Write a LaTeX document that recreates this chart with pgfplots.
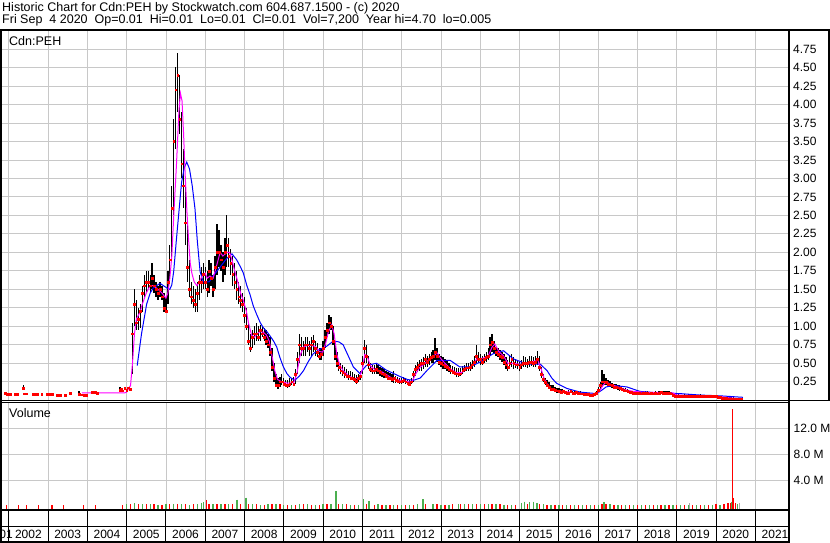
\documentclass[border=0pt]{standalone}
\usepackage{fontspec}
\setmainfont{Liberation Sans}
\usepackage{pgfplots}
\pgfplotsset{compat=1.18}
\usepackage{pgfplotstable}
\definecolor{gridc}{RGB}{200,200,200}
\definecolor{volgreen}{RGB}{76,175,80}
\definecolor{volgrey}{RGB}{170,170,170}
\definecolor{magc}{RGB}{255,0,255}
\definecolor{bluec}{RGB}{0,0,255}

\pgfplotstableread{
x lo hi c
2005.15 0.35 1.05 0.90
2005.20 1.00 1.50 1.30
2005.25 0.95 1.35 1.05
2005.30 0.95 1.25 1.10
2005.35 0.98 1.30 1.20
2005.40 1.20 1.55 1.45
2005.45 1.40 1.70 1.55
2005.50 1.45 1.75 1.60
2005.55 1.50 1.75 1.60
2005.60 1.45 1.70 1.55
2005.65 1.50 1.85 1.65
2005.70 1.45 1.70 1.55
2005.75 1.40 1.60 1.50
2005.80 1.35 1.55 1.45
2005.85 1.40 1.60 1.50
2005.90 1.35 1.55 1.40
2005.95 1.20 1.45 1.25
2006.00 1.18 1.40 1.20
2006.05 1.30 1.75 1.60
2006.10 1.60 2.10 1.90
2006.15 1.90 2.90 2.60
2006.20 2.50 3.80 3.50
2006.25 3.40 4.50 4.20
2006.30 3.90 4.70 4.40
2006.35 3.60 4.40 3.80
2006.40 3.00 3.90 3.20
2006.45 2.60 3.40 2.90
2006.50 2.10 3.00 2.40
2006.55 1.60 2.40 1.80
2006.60 1.40 1.90 1.50
2006.65 1.30 1.60 1.40
2006.70 1.25 1.55 1.35
2006.75 1.20 1.50 1.30
2006.80 1.20 1.60 1.45
2006.85 1.35 1.70 1.60
2006.90 1.45 1.80 1.60
2006.95 1.50 1.85 1.70
2007.00 1.50 1.80 1.60
2007.05 1.40 1.75 1.50
2007.10 1.45 1.90 1.75
2007.15 1.55 1.85 1.65
2007.20 1.40 1.70 1.50
2007.25 1.50 1.95 1.80
2007.30 1.70 2.38 2.00
2007.35 1.80 2.30 2.00
2007.40 1.75 2.10 1.90
2007.45 1.60 2.00 1.80
2007.50 1.70 2.20 2.00
2007.55 1.80 2.50 2.10
2007.60 1.80 2.20 1.95
2007.65 1.70 2.05 1.85
2007.70 1.55 1.95 1.70
2007.75 1.50 1.85 1.60
2007.80 1.35 1.75 1.50
2007.85 1.30 1.60 1.40
2007.90 1.25 1.55 1.35
2007.95 1.20 1.45 1.30
2008.00 1.05 1.40 1.15
2008.05 0.95 1.25 1.00
2008.10 0.75 1.05 0.80
2008.15 0.65 0.90 0.70
2008.20 0.70 0.95 0.85
2008.25 0.75 1.00 0.90
2008.30 0.80 1.05 0.90
2008.35 0.80 1.00 0.85
2008.40 0.80 1.02 0.95
2008.45 0.85 1.00 0.90
2008.50 0.80 0.98 0.85
2008.55 0.75 0.95 0.80
2008.60 0.70 0.90 0.75
2008.65 0.60 0.85 0.65
2008.70 0.40 0.70 0.45
2008.75 0.25 0.50 0.30
2008.80 0.18 0.35 0.20
2008.85 0.15 0.30 0.20
2008.90 0.18 0.32 0.25
2008.95 0.20 0.35 0.25
2009.00 0.20 0.30 0.22
2009.05 0.18 0.28 0.20
2009.10 0.17 0.27 0.20
2009.15 0.18 0.30 0.22
2009.20 0.20 0.30 0.25
2009.25 0.20 0.32 0.22
2009.30 0.22 0.42 0.35
2009.35 0.35 0.65 0.55
2009.40 0.50 0.90 0.75
2009.45 0.60 0.85 0.70
2009.50 0.60 0.80 0.70
2009.55 0.60 0.85 0.75
2009.60 0.65 0.85 0.75
2009.65 0.60 0.80 0.70
2009.70 0.60 0.85 0.75
2009.75 0.65 0.88 0.80
2009.80 0.60 0.80 0.70
2009.85 0.58 0.78 0.65
2009.90 0.55 0.70 0.60
2009.95 0.55 0.70 0.62
2010.00 0.60 0.80 0.70
2010.05 0.70 0.95 0.85
2010.10 0.85 1.05 0.95
2010.15 0.90 1.15 1.05
2010.20 0.95 1.12 1.00
2010.25 0.75 1.00 0.80
2010.30 0.55 0.80 0.60
2010.35 0.45 0.65 0.50
2010.40 0.40 0.55 0.45
2010.45 0.35 0.50 0.40
2010.50 0.33 0.48 0.38
2010.55 0.30 0.45 0.35
2010.60 0.30 0.42 0.33
2010.65 0.28 0.40 0.32
2010.70 0.28 0.40 0.30
2010.75 0.27 0.38 0.30
2010.80 0.25 0.36 0.28
2010.85 0.22 0.34 0.26
2010.90 0.25 0.35 0.30
2010.95 0.28 0.40 0.33
2011.00 0.35 0.60 0.50
2011.05 0.50 0.82 0.70
2011.10 0.50 0.75 0.60
2011.15 0.42 0.60 0.48
2011.20 0.38 0.50 0.42
2011.25 0.36 0.48 0.40
2011.30 0.35 0.48 0.40
2011.35 0.36 0.50 0.42
2011.40 0.35 0.48 0.40
2011.45 0.33 0.45 0.38
2011.50 0.32 0.44 0.36
2011.55 0.30 0.42 0.35
2011.60 0.30 0.40 0.33
2011.65 0.28 0.38 0.30
2011.70 0.27 0.37 0.30
2011.75 0.25 0.35 0.28
2011.80 0.24 0.40 0.30
2011.85 0.24 0.33 0.27
2011.90 0.23 0.32 0.26
2011.95 0.22 0.30 0.25
2012.00 0.22 0.30 0.26
2012.05 0.23 0.32 0.27
2012.10 0.22 0.30 0.25
2012.15 0.20 0.28 0.23
2012.20 0.20 0.27 0.22
2012.25 0.22 0.30 0.25
2012.30 0.25 0.40 0.35
2012.35 0.33 0.48 0.42
2012.40 0.38 0.52 0.45
2012.45 0.40 0.55 0.48
2012.50 0.40 0.56 0.50
2012.55 0.42 0.58 0.50
2012.60 0.45 0.62 0.55
2012.65 0.45 0.60 0.52
2012.70 0.48 0.62 0.55
2012.75 0.50 0.65 0.58
2012.80 0.50 0.68 0.60
2012.85 0.55 0.84 0.65
2012.90 0.52 0.70 0.60
2012.95 0.48 0.62 0.52
2013.00 0.45 0.60 0.50
2013.05 0.42 0.58 0.48
2013.10 0.42 0.56 0.46
2013.15 0.40 0.55 0.45
2013.20 0.38 0.50 0.42
2013.25 0.36 0.48 0.40
2013.30 0.35 0.46 0.38
2013.35 0.34 0.45 0.37
2013.40 0.32 0.44 0.36
2013.45 0.32 0.43 0.35
2013.50 0.33 0.44 0.36
2013.55 0.35 0.46 0.40
2013.60 0.38 0.48 0.42
2013.65 0.40 0.50 0.44
2013.70 0.40 0.50 0.44
2013.75 0.40 0.52 0.45
2013.80 0.42 0.55 0.48
2013.85 0.45 0.60 0.52
2013.90 0.50 0.75 0.60
2013.95 0.50 0.65 0.55
2014.00 0.48 0.62 0.55
2014.05 0.48 0.60 0.52
2014.10 0.50 0.62 0.55
2014.15 0.52 0.65 0.58
2014.20 0.55 0.70 0.60
2014.25 0.60 0.85 0.75
2014.30 0.65 0.89 0.78
2014.35 0.62 0.80 0.70
2014.40 0.60 0.72 0.65
2014.45 0.58 0.70 0.62
2014.50 0.55 0.68 0.60
2014.55 0.52 0.65 0.58
2014.60 0.48 0.62 0.52
2014.65 0.42 0.58 0.48
2014.70 0.40 0.55 0.45
2014.75 0.42 0.60 0.50
2014.80 0.45 0.62 0.55
2014.85 0.42 0.58 0.50
2014.90 0.43 0.55 0.48
2014.95 0.42 0.55 0.48
2015.00 0.40 0.52 0.45
2015.05 0.42 0.55 0.48
2015.10 0.45 0.60 0.50
2015.15 0.45 0.58 0.50
2015.20 0.44 0.56 0.50
2015.25 0.45 0.60 0.52
2015.30 0.46 0.60 0.52
2015.35 0.45 0.58 0.50
2015.40 0.45 0.60 0.52
2015.45 0.48 0.67 0.55
2015.50 0.40 0.60 0.45
2015.55 0.30 0.45 0.35
2015.60 0.25 0.35 0.28
2015.65 0.20 0.30 0.24
2015.70 0.18 0.28 0.20
2015.75 0.15 0.25 0.18
2015.80 0.13 0.20 0.15
2015.85 0.12 0.20 0.15
2015.90 0.12 0.18 0.14
2015.95 0.10 0.17 0.13
2016.00 0.10 0.16 0.12
2016.05 0.09 0.15 0.11
2016.10 0.10 0.15 0.12
2016.15 0.10 0.14 0.11
2016.20 0.08 0.13 0.10
2016.25 0.09 0.14 0.10
2016.30 0.10 0.15 0.12
2016.35 0.09 0.13 0.10
2016.40 0.08 0.12 0.10
2016.45 0.09 0.13 0.11
2016.50 0.09 0.12 0.10
2016.55 0.08 0.12 0.09
2016.60 0.07 0.11 0.09
2016.65 0.07 0.10 0.08
2016.70 0.07 0.10 0.08
2016.75 0.06 0.10 0.08
2016.80 0.06 0.09 0.07
2016.85 0.06 0.09 0.07
2016.90 0.07 0.10 0.08
2016.95 0.08 0.13 0.10
2017.00 0.10 0.18 0.14
2017.05 0.14 0.25 0.20
2017.10 0.18 0.41 0.25
2017.15 0.20 0.35 0.25
2017.20 0.20 0.30 0.24
2017.25 0.19 0.28 0.22
2017.30 0.18 0.26 0.21
2017.35 0.16 0.24 0.20
2017.40 0.15 0.22 0.18
2017.45 0.15 0.22 0.18
2017.50 0.14 0.20 0.17
2017.55 0.13 0.20 0.16
2017.60 0.13 0.18 0.15
2017.65 0.12 0.17 0.14
2017.70 0.11 0.16 0.13
2017.75 0.10 0.15 0.12
2017.80 0.10 0.14 0.11
2017.85 0.09 0.13 0.11
2017.90 0.09 0.12 0.10
2017.95 0.09 0.12 0.10
2018.00 0.08 0.12 0.10
2018.05 0.09 0.12 0.10
2018.10 0.08 0.11 0.09
2018.15 0.08 0.11 0.10
2018.20 0.08 0.12 0.10
2018.25 0.09 0.12 0.10
2018.30 0.08 0.11 0.09
2018.35 0.08 0.11 0.10
2018.40 0.08 0.11 0.09
2018.45 0.08 0.12 0.10
2018.50 0.08 0.11 0.09
2018.55 0.09 0.12 0.10
2018.60 0.09 0.13 0.11
2018.65 0.09 0.12 0.10
2018.70 0.09 0.12 0.10
2018.75 0.09 0.13 0.10
2018.80 0.08 0.12 0.10
2018.85 0.08 0.11 0.09
2018.90 0.06 0.10 0.07
2018.95 0.05 0.08 0.06
2019.00 0.05 0.08 0.06
2019.05 0.05 0.08 0.06
2019.10 0.05 0.07 0.06
2019.15 0.04 0.07 0.05
2019.20 0.05 0.08 0.06
2019.25 0.05 0.07 0.06
2019.30 0.05 0.08 0.06
2019.35 0.05 0.07 0.06
2019.40 0.04 0.07 0.05
2019.45 0.05 0.07 0.06
2019.50 0.05 0.07 0.06
2019.55 0.04 0.07 0.05
2019.60 0.05 0.08 0.06
2019.65 0.04 0.06 0.05
2019.70 0.04 0.06 0.05
2019.75 0.04 0.07 0.05
2019.80 0.04 0.06 0.05
2019.85 0.04 0.06 0.05
2019.90 0.04 0.07 0.05
2019.95 0.04 0.06 0.05
2020.00 0.04 0.06 0.05
2020.05 0.03 0.06 0.04
2020.10 0.03 0.05 0.04
2020.15 0.02 0.05 0.03
2020.20 0.02 0.05 0.03
2020.25 0.02 0.04 0.03
2020.30 0.015 0.04 0.02
2020.35 0.01 0.04 0.02
2020.40 0.01 0.05 0.02
2020.45 0.01 0.04 0.02
2020.50 0.01 0.03 0.015
2020.55 0.005 0.025 0.01
2020.60 0.005 0.02 0.01
2020.65 0.005 0.015 0.01
}\bars

\pgfplotstableread{
x lo hi c
2002.37 0.14 0.20 0.16
2003.79 0.07 0.13 0.08
2004.83 0.12 0.18 0.14
}\earlybars

\pgfplotstableread{
x c
2001.91 0.10
2001.96 0.08
2002.00 0.08
2002.03 0.08
2002.17 0.08
2002.22 0.08
2002.40 0.09
2002.46 0.09
2002.62 0.085
2002.68 0.085
2002.74 0.085
2002.84 0.085
2002.97 0.085
2003.05 0.085
2003.12 0.085
2003.24 0.07
2003.32 0.07
2003.44 0.07
2003.56 0.10
2003.86 0.075
2003.92 0.07
2003.98 0.07
2004.13 0.11
2004.20 0.11
2004.25 0.10
2004.86 0.15
2004.90 0.13
2004.95 0.16
2005.00 0.14
2005.05 0.17
2005.10 0.15
}\early

\pgfplotstableread{
x y
2003.86 0.10
2004.95 0.10
2005.00 0.11
2005.10 0.20
2005.15 0.50
2005.20 0.90
2005.25 1.10
2005.30 1.15
2005.35 1.20
2005.40 1.30
2005.50 1.45
2005.60 1.55
2005.68 1.55
2005.80 1.50
2005.90 1.45
2006.00 1.38
2006.05 1.45
2006.10 1.65
2006.15 1.95
2006.20 2.50
2006.27 3.20
2006.33 3.90
2006.37 4.15
2006.41 4.05
2006.45 3.60
2006.49 3.05
2006.54 2.50
2006.58 2.15
2006.62 1.85
2006.66 1.72
2006.72 1.60
2006.79 1.55
2006.85 1.60
2006.92 1.68
2007.00 1.72
2007.05 1.65
2007.12 1.68
2007.20 1.65
2007.28 1.80
2007.38 2.00
2007.45 1.95
2007.55 2.00
2007.62 2.00
2007.68 1.90
2007.75 1.75
2007.82 1.62
2007.90 1.45
2007.97 1.35
2008.05 1.20
2008.10 1.05
2008.18 0.88
2008.25 0.85
2008.32 0.90
2008.40 0.93
2008.48 0.92
2008.56 0.88
2008.63 0.80
2008.70 0.60
2008.77 0.40
2008.84 0.28
2008.95 0.25
2009.10 0.23
2009.25 0.24
2009.33 0.35
2009.41 0.60
2009.50 0.72
2009.60 0.74
2009.70 0.74
2009.80 0.73
2009.90 0.66
2009.99 0.65
2010.07 0.78
2010.13 0.92
2010.22 1.02
2010.28 0.90
2010.35 0.62
2010.42 0.48
2010.51 0.40
2010.65 0.33
2010.80 0.29
2010.92 0.30
2011.00 0.42
2011.06 0.62
2011.12 0.60
2011.20 0.47
2011.30 0.42
2011.45 0.40
2011.60 0.35
2011.75 0.30
2011.96 0.27
2012.10 0.26
2012.25 0.24
2012.35 0.35
2012.45 0.44
2012.55 0.48
2012.70 0.55
2012.82 0.60
2012.90 0.64
2013.00 0.56
2013.10 0.50
2013.25 0.42
2013.40 0.37
2013.55 0.38
2013.65 0.43
2013.80 0.47
2013.91 0.56
2014.08 0.57
2014.20 0.60
2014.30 0.72
2014.37 0.76
2014.47 0.66
2014.59 0.60
2014.70 0.50
2014.84 0.50
2014.95 0.49
2015.10 0.49
2015.30 0.52
2015.47 0.54
2015.55 0.42
2015.62 0.30
2015.70 0.22
2015.80 0.16
2015.94 0.13
2016.10 0.12
2016.30 0.11
2016.54 0.095
2016.80 0.075
2016.95 0.09
2017.04 0.13
2017.12 0.20
2017.20 0.25
2017.30 0.22
2017.45 0.19
2017.56 0.17
2017.70 0.14
2017.90 0.12
2018.24 0.105
2018.60 0.105
2018.90 0.10
2019.00 0.07
2019.30 0.065
2019.60 0.06
2020.10 0.05
2020.30 0.035
2020.68 0.015
}\mashort

\pgfplotstableread{
x y
2005.27 0.47
2005.38 0.90
2005.51 1.30
2005.60 1.45
2005.68 1.52
2005.85 1.58
2006.02 1.52
2006.10 1.50
2006.15 1.56
2006.20 1.75
2006.27 2.19
2006.34 2.60
2006.40 2.95
2006.47 3.15
2006.53 3.22
2006.60 3.13
2006.67 2.90
2006.74 2.59
2006.80 2.15
2006.87 1.74
2006.95 1.60
2007.10 1.60
2007.20 1.68
2007.29 1.74
2007.45 1.85
2007.55 1.92
2007.68 1.98
2007.80 1.90
2007.90 1.80
2007.97 1.72
2008.06 1.55
2008.14 1.43
2008.22 1.28
2008.31 1.16
2008.40 1.05
2008.48 0.98
2008.58 0.92
2008.65 0.87
2008.74 0.80
2008.82 0.72
2008.90 0.58
2008.99 0.45
2009.08 0.36
2009.16 0.31
2009.28 0.27
2009.40 0.33
2009.50 0.40
2009.62 0.52
2009.75 0.63
2009.92 0.69
2010.09 0.73
2010.26 0.80
2010.40 0.79
2010.51 0.75
2010.64 0.60
2010.77 0.45
2010.94 0.36
2011.02 0.42
2011.10 0.47
2011.36 0.50
2011.60 0.41
2011.80 0.36
2011.96 0.32
2012.15 0.28
2012.30 0.27
2012.47 0.30
2012.64 0.40
2012.90 0.54
2013.23 0.54
2013.48 0.45
2013.74 0.45
2014.00 0.52
2014.33 0.63
2014.59 0.67
2014.84 0.56
2015.18 0.49
2015.52 0.49
2015.70 0.40
2015.82 0.30
2015.94 0.23
2016.20 0.16
2016.54 0.11
2016.96 0.09
2017.10 0.14
2017.20 0.18
2017.39 0.20
2017.73 0.18
2018.06 0.12
2018.50 0.10
2019.08 0.09
2019.60 0.07
2020.10 0.06
2020.68 0.04
}\malong

\pgfplotstableread{
x v
2005.00 0.30
2005.20 0.40
2005.40 0.25
2005.60 0.30
2005.80 0.20
2006.00 0.25
2006.20 0.35
2006.40 0.30
2006.60 0.20
2006.80 0.30
2006.90 0.50
2006.95 0.60
2007.20 0.30
2007.40 0.25
2007.60 0.30
2007.81 1.00
2008.04 1.30
2008.20 0.30
2008.40 0.20
2008.60 0.25
2008.80 0.30
2009.00 0.20
2009.20 0.20
2009.40 0.35
2009.60 0.25
2009.80 0.20
2010.00 0.30
2010.20 0.30
2010.33 2.30
2010.50 0.30
2010.70 0.20
2010.90 0.20
2011.02 1.05
2011.17 0.75
2011.40 0.25
2011.60 0.20
2011.80 0.15
2012.00 0.20
2012.20 0.20
2012.40 0.30
2012.54 1.05
2012.80 0.25
2013.00 0.20
2013.20 0.20
2013.45 0.35
2013.60 0.30
2013.80 0.30
2014.00 0.25
2014.20 0.30
2014.40 0.25
2014.60 0.20
2014.80 0.20
2015.05 0.50
2015.12 0.70
2015.25 0.60
2015.35 0.70
2015.44 0.50
2015.60 0.25
2015.80 0.20
2016.00 0.20
2016.20 0.15
2016.40 0.15
2016.60 0.15
2016.80 0.15
2017.00 0.20
2017.15 0.65
2017.30 0.25
2017.50 0.20
2017.70 0.15
2017.90 0.15
2018.10 0.15
2018.30 0.15
2018.50 0.15
2018.70 0.20
2018.90 0.15
2019.10 0.15
2019.30 0.15
2019.50 0.15
2019.70 0.15
2019.90 0.20
2020.10 0.20
2020.30 0.30
2020.40 0.70
2020.55 0.30
}\volgreen

\pgfplotstableread{
x v
2001.95 0.10
2002.25 0.10
2002.45 0.10
2002.75 0.10
2003.10 0.10
2003.40 0.10
2003.90 0.10
2004.20 0.10
2004.90 0.20
2005.10 0.35
2005.30 0.30
2005.50 0.25
2005.70 0.30
2005.90 0.20
2006.10 0.30
2006.30 0.35
2006.50 0.30
2006.70 0.25
2007.03 0.95
2007.10 0.30
2007.30 0.25
2007.50 0.30
2007.70 0.30
2007.90 0.25
2008.10 0.30
2008.30 0.25
2008.50 0.20
2008.70 0.30
2008.90 0.30
2009.10 0.20
2009.30 0.20
2009.50 0.25
2009.70 0.20
2009.90 0.20
2010.10 0.25
2010.40 0.30
2010.60 0.25
2010.80 0.20
2011.10 0.30
2011.30 0.20
2011.50 0.20
2011.70 0.15
2011.90 0.20
2012.10 0.15
2012.30 0.20
2012.60 0.30
2012.90 0.25
2013.10 0.20
2013.30 0.25
2013.50 0.30
2013.70 0.35
2013.90 0.30
2014.10 0.25
2014.30 0.30
2014.50 0.25
2014.70 0.20
2014.90 0.20
2015.20 0.30
2015.50 0.30
2015.70 0.20
2015.90 0.20
2016.10 0.15
2016.30 0.15
2016.50 0.15
2016.70 0.15
2016.90 0.15
2017.10 0.30
2017.20 0.25
2017.40 0.20
2017.60 0.15
2017.80 0.15
2018.00 0.15
2018.20 0.15
2018.40 0.15
2018.60 0.15
2018.80 0.15
2019.00 0.15
2019.20 0.15
2019.40 0.15
2019.60 0.15
2019.80 0.20
2020.00 0.25
2020.20 0.35
2020.30 0.40
2020.36 0.50
2020.42 15.00
2020.45 1.25
2020.50 0.40
}\volred

\pgfplotstableread{
x v
2019.33 0.40
2020.60 0.50
}\volgrey

\begin{document}
\begin{tikzpicture}[x=1pt,y=1pt]
\useasboundingbox (0,0) rectangle (830,543);
\fill[white] (0,0) rectangle (830,543);

% ---------------- price panel ----------------
\begin{axis}[
  at={(1pt,142pt)}, anchor=south west, scale only axis,
  width=787.5pt, height=370.5pt,
  xmin=2001.804, xmax=2021.842, ymin=-0.01, ymax=5,
  axis line style={draw=none}, major tick length=0pt,
  grid=major, grid style={gridc, line width=0.8pt},
  xtick={2002,2003,2004,2005,2006,2007,2008,2009,2010,2011,2012,2013,2014,2015,2016,2017,2018,2019,2020,2021},
  xticklabel=\empty,
  ytick={0.25,0.5,0.75,1,1.25,1.5,1.75,2,2.25,2.5,2.75,3,3.25,3.5,3.75,4,4.25,4.5,4.75},
  yticklabels={0.25,0.50,0.75,1.00,1.25,1.50,1.75,2.00,2.25,2.50,2.75,3.00,3.25,3.50,3.75,4.00,4.25,4.50,4.75},
  yticklabel pos=right,
  yticklabel style={anchor=west, inner sep=0pt, xshift=4.5pt, font=\fontsize{12}{14}\selectfont},
]
\addplot[red, only marks, mark=square*, mark size=0.9pt,
  error bars/.cd, y dir=both, y explicit, error mark=none,
  error bar style={black, line width=1.3pt}]
  table[x=x, y=c, y error plus expr=\thisrow{hi}-\thisrow{c}, y error minus expr=\thisrow{c}-\thisrow{lo}] {\bars};
\addplot[red, only marks, mark=square*, mark size=0.9pt,
  error bars/.cd, y dir=both, y explicit, error mark=none,
  error bar style={black, line width=1.3pt}]
  table[x=x, y=c, y error plus expr=\thisrow{hi}-\thisrow{c}, y error minus expr=\thisrow{c}-\thisrow{lo}] {\earlybars};
\addplot[red, only marks, mark=square*, mark size=0.9pt] table[x=x, y=c] {\early};
\addplot[bluec, line width=1pt] table[x=x, y=y] {\malong};
\addplot[magc, line width=1pt] table[x=x, y=y] {\mashort};
\end{axis}

% ---------------- volume panel ----------------
\begin{axis}[
  at={(1pt,33.7pt)}, anchor=south west, scale only axis,
  width=787.5pt, height=106.6pt,
  xmin=2001.804, xmax=2021.842, ymin=-0.5, ymax=16,
  axis line style={draw=none}, major tick length=0pt,
  grid=major, grid style={gridc, line width=0.8pt},
  xtick={2002,2003,2004,2005,2006,2007,2008,2009,2010,2011,2012,2013,2014,2015,2016,2017,2018,2019,2020,2021},
  xticklabel=\empty,
  ytick={4,8,12},
  yticklabels={4.0 M,8.0 M,12.0 M},
  yticklabel pos=right,
  yticklabel style={anchor=west, inner sep=0pt, xshift=5pt, font=\fontsize{12}{14}\selectfont},
]
\addplot[draw=none, mark=none, error bars/.cd, y dir=minus, y explicit, error mark=none,
  error bar style={volgreen, line width=1.3pt}]
  table[x=x, y=v, y error minus expr=\thisrow{v}+0.5] {\volgreen};
\addplot[draw=none, mark=none, error bars/.cd, y dir=minus, y explicit, error mark=none,
  error bar style={red, line width=1.3pt}]
  table[x=x, y=v, y error minus expr=\thisrow{v}+0.5] {\volred};
\addplot[draw=none, mark=none, error bars/.cd, y dir=minus, y explicit, error mark=none,
  error bar style={volgrey, line width=1.3pt}]
  table[x=x, y=v, y error minus expr=\thisrow{v}+0.5] {\volgrey};
\end{axis}

% ---------------- frame ----------------
\draw[line width=2pt] (0,513) -- (830,513);
\draw[line width=2pt] (1,0) -- (1,513);
\draw[line width=2pt] (789,0) -- (789,513);
\draw[line width=2pt] (828.5,142) -- (828.5,513);
\draw[line width=1pt] (0,142) -- (830,142);
\draw[line width=1pt] (0,140.3) -- (789,140.3);
\draw[line width=2pt] (0,33) -- (789,33);
\draw[line width=1.2pt] (0,16.3) -- (789,16.3);
\draw[line width=2pt] (0,1) -- (789,1);
\foreach \yr in {2002,...,2021} {
  \draw[line width=1pt] ({1+(\yr-2001.804)*39.300},1) -- ({1+(\yr-2001.804)*39.300},33);
  \node[anchor=base, inner sep=0pt, font=\fontsize{12}{14}\selectfont] at ({1+(\yr+0.5-2001.804)*39.300},4.7) {\yr};
}
\node[anchor=base east, inner sep=0pt, font=\fontsize{12}{14}\selectfont] at (13,4.7) {2001};

% ---------------- texts ----------------
\node[anchor=base west, inner sep=0pt, font=\fontsize{12.5}{14}\selectfont] at (2,531.3)
  {Historic Chart for Cdn:PEH by Stockwatch.com 604.687.1500 - (c) 2020};
\node[anchor=base west, inner sep=0pt, font=\fontsize{12.5}{14}\selectfont] at (2,519)
  {Fri Sep~~4 2020~~Op=0.01~~Hi=0.01~~Lo=0.01~~Cl=0.01~~Vol=7,200~~Year hi=4.70~~lo=0.005};
\node[anchor=base west, inner sep=0pt, font=\fontsize{12.5}{14}\selectfont] at (9,497)
  {Cdn:PEH};
\node[anchor=base west, inner sep=0pt, font=\fontsize{12.5}{14}\selectfont] at (9,125.3)
  {Volume};
\end{tikzpicture}
\end{document}
